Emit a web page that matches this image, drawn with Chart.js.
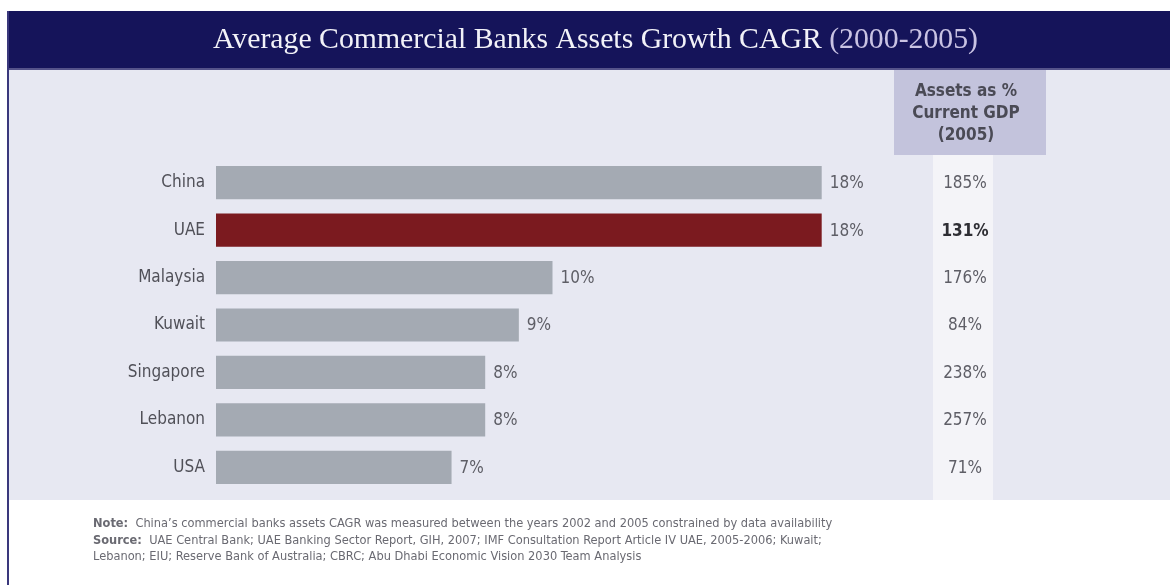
<!DOCTYPE html>
<html>
<head>
<meta charset="utf-8">
<script src="https://cdn.jsdelivr.net/npm/chart.js@4.4.1/dist/chart.umd.min.js"></script>
<style>
  html, body { margin: 0; padding: 0; background: #fff; }
  #grafico { display: block; }
</style>
</head>
<body>
<canvas id="grafico" width="1170" height="585"></canvas>
<script>
// Dados do gráfico
const paises = ['China', 'UAE', 'Malaysia', 'Kuwait', 'Singapore', 'Lebanon', 'USA'];
const cagr = [18, 18, 10, 9, 8, 8, 7];
const ativosPib = [185, 131, 176, 84, 238, 257, 71];
const destaque = 'UAE';
const titulo = 'Average Commercial Banks Assets Growth CAGR';
const tituloAnos = '(2000-2005)';
const cabecalhoColuna = ['Assets as %', 'Current GDP', '(2005)'];
const notas = [
    ['Note:', '  China\u2019s commercial banks assets CAGR was measured between the years 2002 and 2005 constrained by data availability'],
    ['Source:', '  UAE Central Bank; UAE Banking Sector Report, GIH, 2007; IMF Consultation Report Article IV UAE, 2005-2006; Kuwait;'],
    ['', 'Lebanon; EIU; Reserve Bank of Australia; CBRC; Abu Dhabi Economic Vision 2030 Team Analysis']
];

const fonteNarrow = "'Liberation Sans Narrow', 'DejaVu Sans Condensed', 'Liberation Sans', sans-serif";

// Fundo, faixa do título e coluna da direita
const fundo = {
    id: 'fundo',
    beforeDraw(chart) {
        const ctx = chart.ctx;
        ctx.save();
        ctx.fillStyle = '#ffffff';
        ctx.fillRect(0, 0, chart.width, chart.height);
        ctx.fillStyle = '#e7e8f2';
        ctx.fillRect(8, 69, chart.width - 8, 431);
        ctx.fillStyle = '#15145a';
        ctx.fillRect(7, 11, chart.width - 7, 58);
        ctx.fillStyle = '#55538a';
        ctx.fillRect(8, 68, chart.width - 8, 2);
        ctx.fillStyle = '#3a387c';
        ctx.fillRect(7, 11, 2, chart.height - 11);
        ctx.fillStyle = '#c3c3dc';
        ctx.fillRect(894, 70, 152, 85);
        ctx.fillStyle = '#f4f4f8';
        ctx.fillRect(933, 155, 60, 345);

        // título (serifada condensada)
        ctx.font = "30px 'Liberation Serif', serif";
        ctx.textBaseline = 'alphabetic';
        const w1 = ctx.measureText(titulo + ' ').width;
        const w2 = ctx.measureText(tituloAnos).width;
        const esc = 765 / (w1 + w2);
        ctx.translate(213, 48);
        ctx.scale(esc, 1);
        ctx.textAlign = 'left';
        ctx.fillStyle = '#f2f2f8';
        ctx.fillText(titulo + ' ', 0, 0);
        ctx.fillStyle = '#c9c3e3';
        ctx.fillText(tituloAnos, w1, 0);
        ctx.restore();
    },
    afterDraw(chart) {
        const ctx = chart.ctx;
        const x = chart.scales.x;
        const y = chart.scales.y;
        ctx.save();
        ctx.textBaseline = 'middle';

        // rótulos das barras
        ctx.font = '17px ' + fonteNarrow;
        ctx.fillStyle = '#5e5e66';
        ctx.textAlign = 'left';
        cagr.forEach((v, i) => {
            ctx.fillText(v + '%', x.getPixelForValue(v) + 8, y.getPixelForValue(i) + 1);
        });

        // coluna de ativos / PIB
        ativosPib.forEach((v, i) => {
            const negrito = paises[i] === destaque;
            ctx.font = (negrito ? 'bold ' : '') + '17px ' + fonteNarrow;
            ctx.fillStyle = negrito ? '#2e2e34' : '#5e5e66';
            ctx.textAlign = 'center';
            ctx.fillText(v + '%', 965, y.getPixelForValue(i) + 1);
        });

        // cabeçalho da coluna
        ctx.font = 'bold 17px ' + fonteNarrow;
        ctx.fillStyle = '#4a4a55';
        cabecalhoColuna.forEach((t, i) => {
            ctx.fillText(t, 966, 92 + i * 22);
        });

        // notas
        ctx.textAlign = 'left';
        ctx.textBaseline = 'alphabetic';
        notas.forEach((linha, i) => {
            const yy = 527 + i * 16.5;
            ctx.font = 'bold 12.7px ' + fonteNarrow;
            ctx.fillStyle = '#6a6a72';
            ctx.fillText(linha[0], 93, yy);
            const wb = linha[0] ? ctx.measureText(linha[0]).width : 0;
            ctx.font = '12.7px ' + fonteNarrow;
            ctx.fillText(linha[1], 93 + wb, yy);
        });
        ctx.restore();
    }
};

const ctxGrafico = document.getElementById('grafico').getContext('2d');
new Chart(ctxGrafico, {
    type: 'bar',
    data: {
        labels: paises,
        datasets: [{
            label: 'CAGR (%)',
            data: cagr,
            backgroundColor: paises.map(p => p === destaque ? '#7b1a1f' : '#a4aab3'),
            barPercentage: 0.7,
            categoryPercentage: 1
        }]
    },
    options: {
        indexAxis: 'y',
        responsive: false,
        animation: false,
        devicePixelRatio: 1,
        layout: {
            padding: { top: 159, bottom: 94, left: 0, right: 281 }
        },
        plugins: {
            legend: { display: false },
            tooltip: { enabled: false },
            title: { display: false }
        },
        scales: {
            x: {
                min: 0,
                max: 20,
                display: false
            },
            y: {
                grid: { display: false, drawTicks: false },
                border: { display: false },
                ticks: {
                    color: '#505058',
                    padding: 11,
                    font: { family: fonteNarrow, size: 17 }
                },
                afterFit(scale) {
                    scale.width = 216;
                }
            }
        }
    },
    plugins: [fundo]
});
</script>
</body>
</html>
